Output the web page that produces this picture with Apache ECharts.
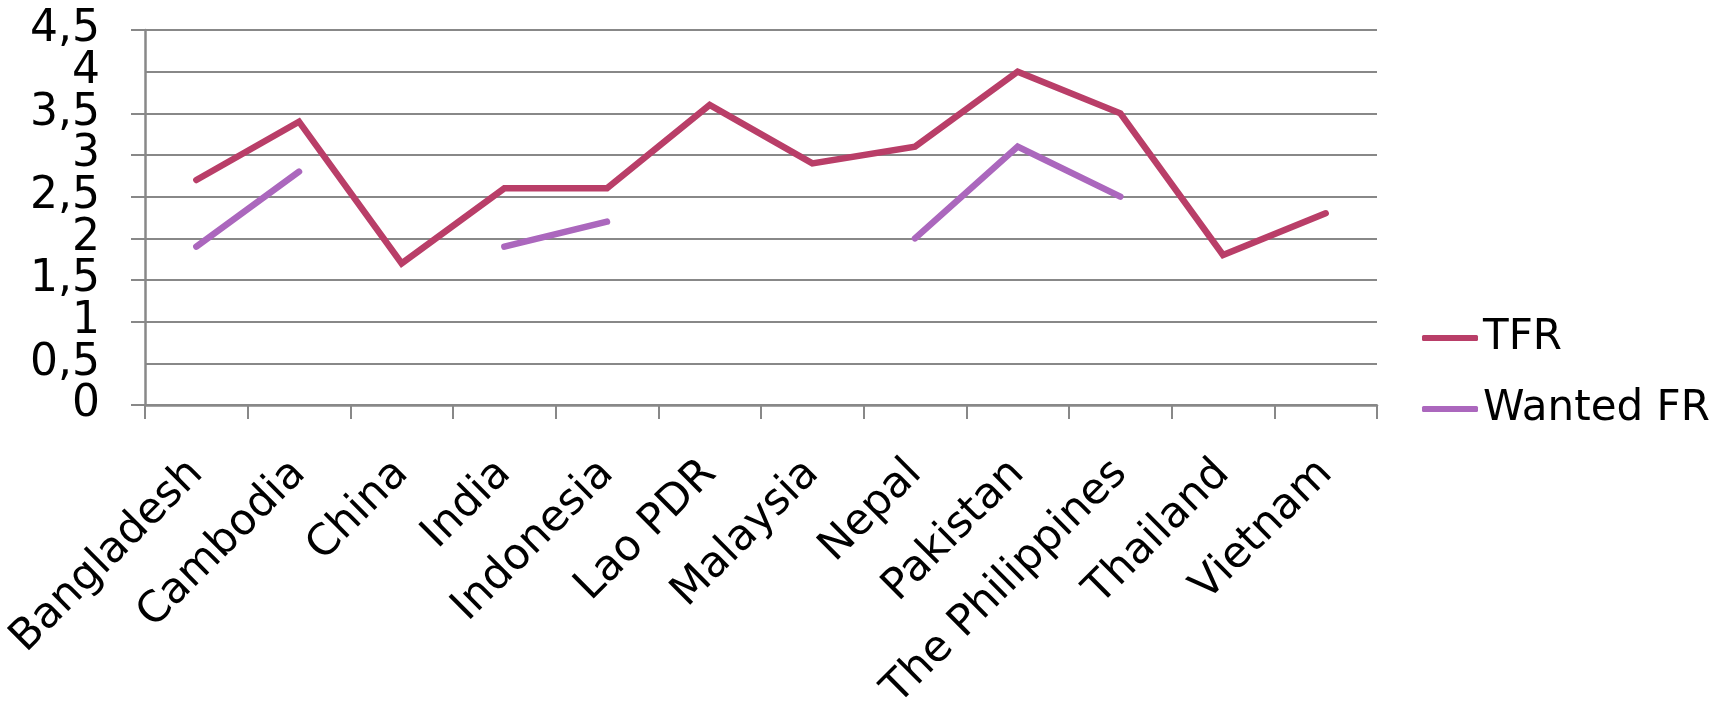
<!DOCTYPE html>
<html>
<head>
<meta charset="utf-8">
<script src="https://cdn.jsdelivr.net/npm/echarts@6/dist/echarts.min.js"></script>
<style>
  html, body { margin: 0; padding: 0; background: #fff; }
  #chart { width: 1717px; height: 705px; }
</style>
</head>
<body>
<div id="chart"></div>
<script>
// Countries on the category axis
const countries = ['Bangladesh', 'Cambodia', 'China', 'India', 'Indonesia', 'Lao PDR',
  'Malaysia', 'Nepal', 'Pakistan', 'The Philippines', 'Thailand', 'Vietnam'];

// Total fertility rate
const tfr = [2.7, 3.4, 1.7, 2.6, 2.6, 3.6, 2.9, 3.1, 4.0, 3.5, 1.8, 2.3];

// Wanted fertility rate (null where not available)
const wantedFr = [1.9, 2.8, null, 1.9, 2.2, null, null, 2.0, 3.1, 2.5, null, null];

// Value axis range
const yMin = 0;
const yMax = 4.5;
const yStep = 0.5;

const FONT = 'DejaVu Sans';
const GRID_GRAY = '#888888';

// Decimal comma tick labels
const fmtTick = v => String(v).replace('.', ',');
const near = (a, b) => Math.abs(a - b) < 1e-9;

const yLabelStyle = {
  margin: 45,
  hideOverlap: false,
  fontFamily: FONT,
  fontSize: 44,
  lineHeight: 18,
  color: '#000'
};

const chart = echarts.init(document.getElementById('chart'), null, { renderer: 'canvas' });

chart.setOption({
  backgroundColor: '#ffffff',
  animation: false,
  grid: {
    left: 145, right: 340, top: 30, bottom: 300,
    containLabel: false,
    outerBoundsMode: 'none'
  },
  legend: {
    orient: 'vertical',
    left: 1417,
    top: 308,
    itemWidth: 56,
    itemHeight: 6,
    itemGap: 21,
    icon: 'roundRect',
    data: ['TFR', 'Wanted FR'],
    textStyle: { fontFamily: FONT, fontSize: 42, color: '#000', lineHeight: 50 }
  },
  xAxis: {
    type: 'category',
    data: countries,
    boundaryGap: true,
    axisLine: { lineStyle: { color: GRID_GRAY, width: 2.5 } },
    axisTick: { show: true, length: 14, lineStyle: { color: GRID_GRAY, width: 2 } },
    axisLabel: {
      interval: 0,
      rotate: 45,
      margin: 62,
      hideOverlap: false,
      fontFamily: FONT,
      fontSize: 43,
      lineHeight: 44,
      color: '#000'
    },
    splitLine: { show: false }
  },
  yAxis: [
    {
      // main value axis: line, ticks, gridlines and labels
      type: 'value',
      min: yMin,
      max: yMax,
      interval: yStep,
      axisLine: { show: true, lineStyle: { color: GRID_GRAY, width: 2.5 } },
      axisTick: { show: true, length: 14, lineStyle: { color: GRID_GRAY, width: 2 } },
      axisLabel: Object.assign({
        showMinLabel: true,
        showMaxLabel: true,
        formatter: fmtTick
      }, yLabelStyle),
      splitLine: { show: true, lineStyle: { color: GRID_GRAY, width: 2 } }
    },
    {
      // companion axis on the same scale: carries the labels next to the
      // end ticks, which the main axis drops because the big labels crowd
      type: 'value',
      position: 'left',
      min: yMin,
      max: yMax,
      interval: yStep,
      axisLine: { show: false },
      axisTick: { show: false },
      splitLine: { show: false },
      axisLabel: Object.assign({
        formatter: v => (near(v, yMin + yStep) || near(v, yMax - yStep)) ? fmtTick(v) : ''
      }, yLabelStyle)
    }
  ],
  series: [
    {
      name: 'TFR',
      type: 'line',
      yAxisIndex: 0,
      data: tfr,
      showSymbol: false,
      symbol: 'none',
      color: '#B93E68',
      lineStyle: { width: 6.5, color: '#B93E68', cap: 'round', join: 'miter' },
      z: 3
    },
    {
      name: 'Wanted FR',
      type: 'line',
      yAxisIndex: 0,
      data: wantedFr,
      connectNulls: false,
      showSymbol: false,
      symbol: 'none',
      color: '#AB67BD',
      lineStyle: { width: 6.5, color: '#AB67BD', cap: 'round', join: 'miter' },
      z: 2
    }
  ]
});
</script>
</body>
</html>
